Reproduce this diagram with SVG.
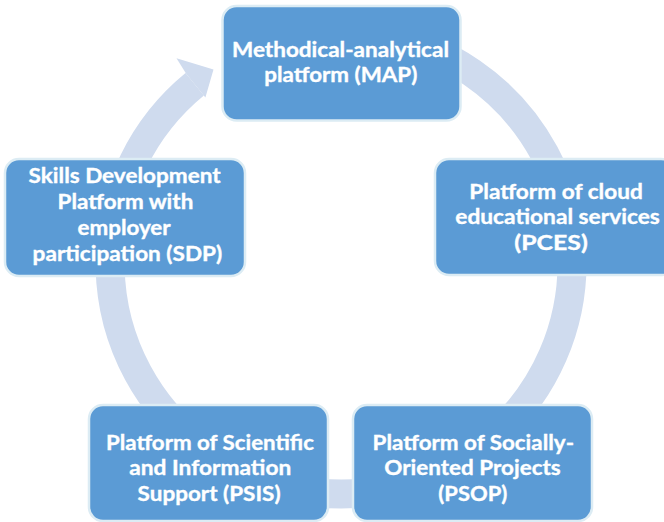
<svg xmlns="http://www.w3.org/2000/svg" width="664" height="522" viewBox="0 0 664 522">
  <style>
    .box { fill: #5b9bd5; stroke: #dcecf4; stroke-width: 2.5; }
    .lbl { fill: #ffffff; stroke: #ffffff; stroke-width: 0.35; font-family: Lato, "Open Sans", "Liberation Sans", sans-serif; font-weight: bold; font-size: 20.3px; }
    .ring { fill: none; stroke: #cfdbee; stroke-width: 29; }
    .head { fill: #cfdbee; }
  </style>
  <rect width="664" height="522" fill="#ffffff"/>

  <!-- continuous cycle ring, clockwise, ending in an arrow at the first platform -->
  <g id="connectors">
    <path class="ring" d="M 381.1 35.5 A 231 231 0 1 1 194.7 84.3"/>
    <polygon class="head" points="186.5,74.2 176.5,58.3 213.5,69.6 205.4,97.6 203.6,95.2"/>
  </g>

  <g id="map">
    <rect class="box" x="222.5" y="6" width="238" height="114.5" rx="14"/>
    <text class="lbl" x="232" y="56.5" textLength="217" lengthAdjust="spacingAndGlyphs">Methodical-analytical</text>
    <text class="lbl" x="264.3" y="82" textLength="153" lengthAdjust="spacingAndGlyphs">platform (MAP)</text>
  </g>

  <g id="pces">
    <rect class="box" x="435" y="159" width="240" height="116" rx="14"/>
    <text class="lbl" x="469.3" y="199.3" textLength="173.5" lengthAdjust="spacingAndGlyphs">Platform of cloud</text>
    <text class="lbl" x="455.3" y="224.3" textLength="204.5" lengthAdjust="spacingAndGlyphs">educational services</text>
    <text class="lbl" x="514.3" y="250" textLength="73.5" lengthAdjust="spacingAndGlyphs">(PCES)</text>
  </g>

  <g id="sdp">
    <rect class="box" x="5" y="159" width="240" height="117" rx="14"/>
    <text class="lbl" x="28.6" y="183.3" textLength="192" lengthAdjust="spacingAndGlyphs">Skills Development</text>
    <text class="lbl" x="57.6" y="209.3" textLength="135.7" lengthAdjust="spacingAndGlyphs">Platform with</text>
    <text class="lbl" x="77.6" y="235" textLength="93" lengthAdjust="spacingAndGlyphs">employer</text>
    <text class="lbl" x="32.6" y="260.7" textLength="189.7" lengthAdjust="spacingAndGlyphs">participation (SDP)</text>
  </g>

  <g id="psis">
    <rect class="box" x="89" y="405" width="239" height="116" rx="14"/>
    <text class="lbl" x="106" y="450" textLength="208" lengthAdjust="spacingAndGlyphs">Platform of Scientific</text>
    <text class="lbl" x="129.3" y="475" textLength="162" lengthAdjust="spacingAndGlyphs">and Information</text>
    <text class="lbl" x="137.6" y="501" textLength="143" lengthAdjust="spacingAndGlyphs">Support (PSIS)</text>
  </g>

  <g id="psop">
    <rect class="box" x="353" y="405" width="239" height="116" rx="14"/>
    <text class="lbl" x="372.6" y="450" textLength="201.4" lengthAdjust="spacingAndGlyphs">Platform of Socially-</text>
    <text class="lbl" x="384.3" y="475" textLength="176.4" lengthAdjust="spacingAndGlyphs">Oriented Projects</text>
    <text class="lbl" x="438.3" y="501" textLength="69" lengthAdjust="spacingAndGlyphs">(PSOP)</text>
  </g>
</svg>
